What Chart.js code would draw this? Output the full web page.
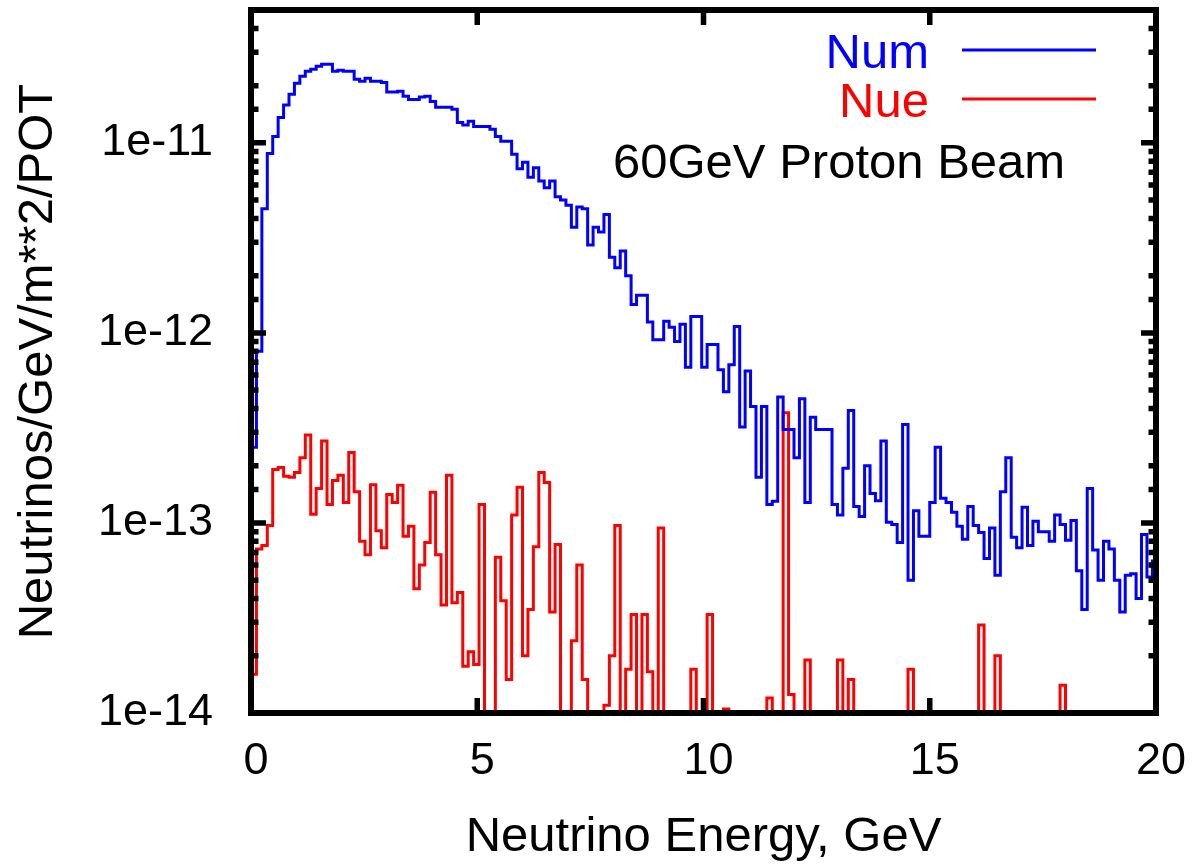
<!DOCTYPE html>
<html>
<head>
<meta charset="utf-8">
<title>Neutrino flux</title>
<script src="https://cdn.jsdelivr.net/npm/chart.js@4.4.0/dist/chart.umd.min.js"></script>
<style>
  html, body { margin: 0; padding: 0; background: #ffffff; overflow: hidden; }
  canvas { display: block; }
</style>
</head>
<body>
<canvas id="fluxChart" width="1194" height="866"></canvas>
<script>
// histogram bins, 0.12 GeV wide, starting at 0
const BIN_WIDTH = 0.12;
const seriesLabels = ['Num', 'Nue'];
const seriesColors = ['#0000ff', '#ff0000'];
const noteText = '60GeV Proton Beam';
const xTitle = 'Neutrino Energy, GeV';
const yTitle = 'Neutrinos/GeV/m**2/POT';
const xTicks = [0, 5, 10, 15, 20];
const yRange = [1e-14, 5e-11];

// value the step line starts from at E = 0
const numStart = 4.6e-14;
const nueStart = 0;

const numFlux = [
  2.5e-13, 8.0e-13, 4.5e-12, 8.8e-12, 1.08e-11, 1.36e-11, 1.58e-11, 1.80e-11, 2.06e-11, 2.24e-11,
  2.38e-11, 2.44e-11, 2.53e-11, 2.59e-11, 2.59e-11, 2.38e-11, 2.41e-11, 2.38e-11, 2.38e-11, 2.16e-11,
  2.11e-11, 2.19e-11, 2.11e-11, 2.11e-11, 2.08e-11, 1.85e-11, 1.85e-11, 1.87e-11, 1.76e-11, 1.69e-11,
  1.69e-11, 1.74e-11, 1.76e-11, 1.65e-11, 1.54e-11, 1.54e-11, 1.54e-11, 1.50e-11, 1.28e-11, 1.24e-11,
  1.30e-11, 1.22e-11, 1.22e-11, 1.22e-11, 1.18e-11, 1.08e-11, 1.02e-11, 1.02e-11, 8.7e-12, 7.3e-12,
  7.9e-12, 6.6e-12, 7.4e-12, 6.3e-12, 5.8e-12, 6.3e-12, 5.2e-12, 5.0e-12, 4.7e-12, 3.6e-12,
  4.6e-12, 4.5e-12, 2.9e-12, 3.6e-12, 3.4e-12, 4.2e-12, 2.5e-12, 2.2e-12, 2.7e-12, 2.0e-12,
  1.41e-12, 1.58e-12, 1.58e-12, 1.14e-12, 9.2e-13, 9.2e-13, 1.15e-12, 1.07e-12, 9.0e-13, 1.11e-12,
  6.6e-13, 1.22e-12, 1.22e-12, 6.6e-13, 8.7e-13, 8.7e-13, 6.4e-13, 4.9e-13, 6.8e-13, 1.08e-12,
  3.2e-13, 6.3e-13, 4.1e-13, 1.74e-13, 4.1e-13, 1.25e-13, 1.30e-13, 4.6e-13, 3.1e-13, 3.1e-13,
  2.2e-13, 4.5e-13, 1.28e-13, 3.6e-13, 3.1e-13, 3.1e-13, 3.1e-13, 1.25e-13, 1.10e-13, 1.94e-13,
  3.9e-13, 1.22e-13, 1.08e-13, 2.0e-13, 1.43e-13, 1.31e-13, 2.7e-13, 1.01e-13, 9.8e-14, 7.9e-14,
  3.3e-13, 5.0e-14, 1.16e-13, 8.5e-14, 8.5e-14, 1.28e-13, 2.5e-13, 1.35e-13, 1.28e-13, 1.14e-13,
  9.6e-14, 8.2e-14, 1.22e-13, 9.7e-14, 8.9e-14, 6.5e-14, 9.4e-14, 5.3e-14, 1.46e-13, 2.2e-13,
  8.4e-14, 7.4e-14, 1.21e-13, 7.6e-14, 1.02e-13, 9.0e-14, 9.0e-14, 8.0e-14, 1.10e-13, 9.8e-14,
  8.1e-14, 1.03e-13, 5.6e-14, 3.5e-14, 1.52e-13, 7.2e-14, 5.0e-14, 8.0e-14, 7.3e-14, 5.0e-14,
  3.4e-14, 5.3e-14, 5.4e-14, 4.0e-14, 8.7e-14, 5.2e-14, 6.3e-14
];

// 0 = empty bin
const nueFlux = [
  1.6e-14, 7.3e-14, 7.6e-14, 9.7e-14, 1.91e-13, 1.96e-13, 1.76e-13, 1.74e-13, 1.84e-13, 2.2e-13,
  2.9e-13, 1.11e-13, 1.52e-13, 2.7e-13, 1.25e-13, 1.67e-13, 1.78e-13, 1.28e-13, 2.35e-13, 1.46e-13,
  8.0e-14, 6.8e-14, 1.59e-13, 9.1e-14, 7.4e-14, 1.41e-13, 1.28e-13, 1.58e-13, 8.5e-14, 9.6e-14,
  4.5e-14, 6.0e-14, 7.9e-14, 1.45e-13, 6.8e-14, 3.7e-14, 1.78e-13, 3.8e-14, 4.3e-14, 1.76e-14,
  2.1e-14, 1.8e-14, 1.25e-13, 0, 0, 6.6e-14, 3.9e-14, 1.5e-14, 1.10e-13, 1.54e-13,
  2.0e-14, 3.5e-14, 7.5e-14, 1.84e-13, 1.63e-13, 3.4e-14, 7.7e-14, 0, 0, 2.4e-14,
  6.0e-14, 1.5e-14, 0, 0, 0, 1.1e-14, 2.0e-14, 9.7e-14, 0, 1.7e-14,
  3.3e-14, 0, 3.3e-14, 1.65e-14, 0, 9.4e-14, 0, 0, 0, 0,
  0, 1.7e-14, 0, 0, 3.3e-14, 0, 0, 1.05e-14, 0, 0,
  0, 0, 0, 0, 0, 1.2e-14, 0, 0, 3.8e-13, 1.25e-14,
  0, 0, 1.9e-14, 0, 0, 0, 0, 0, 1.9e-14, 0,
  1.5e-14, 0, 0, 0, 0, 0, 0, 0, 0, 0,
  0, 1.7e-14, 0, 0, 0, 0, 0, 0, 0, 0,
  0, 0, 0, 0, 2.9e-14, 0, 0, 2.0e-14, 0, 0,
  0, 0, 0, 0, 0, 0, 0, 0, 0, 1.4e-14,
  0, 0, 0, 0, 0, 0, 0, 0, 0, 0,
  0, 0, 0, 0, 0, 0, 0
];

const FONT = '"Liberation Sans", Helvetica, Arial, sans-serif';

function isDecade(value) {
  const e = Math.log10(value);
  return Math.abs(e - Math.round(e)) < 1e-6;
}

// each point sits at the right edge of its bin, drawn with stepped 'after'
function toSteps(start, values) {
  const points = [{ x: 0, y: start > 0 ? start : yRange[0] }];
  values.forEach(function (v, i) {
    points.push({ x: (i + 1) * BIN_WIDTH, y: v > 0 ? v : yRange[0] });
  });
  return points;
}

const frameTicks = {
  id: 'frameTicks',
  afterDatasetsDraw: function (chart) {
    const ctx = chart.ctx;
    const a = chart.chartArea;
    const xs = chart.scales.x;
    const ys = chart.scales.y;
    ctx.save();
    ctx.strokeStyle = '#000000';
    ctx.lineCap = 'butt';
    ctx.lineWidth = 5.5;
    ctx.beginPath();
    ys.ticks.forEach(function (t) {
      const py = ys.getPixelForValue(t.value);
      const len = isDecade(t.value) ? 15 : 7.5;
      ctx.moveTo(a.left, py); ctx.lineTo(a.left + len, py);
      ctx.moveTo(a.right, py); ctx.lineTo(a.right - len, py);
    });
    xs.ticks.forEach(function (t) {
      const px = xs.getPixelForValue(t.value);
      ctx.moveTo(px, a.bottom); ctx.lineTo(px, a.bottom - 15);
      ctx.moveTo(px, a.top); ctx.lineTo(px, a.top + 15);
    });
    ctx.stroke();
    ctx.lineWidth = 6;
    ctx.lineJoin = 'miter';
    ctx.strokeRect(a.left, a.top, a.right - a.left, a.bottom - a.top);
    ctx.restore();
  },
  afterDraw: function (chart) {
    const ctx = chart.ctx;
    ctx.save();
    ctx.font = '49px ' + FONT;
    ctx.textBaseline = 'alphabetic';
    chart.data.datasets.forEach(function (ds, i) {
      ctx.fillStyle = ds.borderColor;
      ctx.textAlign = 'right';
      ctx.fillText(ds.label, 929, 68 + i * 49);
      ctx.strokeStyle = ds.borderColor;
      ctx.lineWidth = 3;
      ctx.beginPath();
      ctx.moveTo(962, 50 + i * 49);
      ctx.lineTo(1096, 50 + i * 49);
      ctx.stroke();
    });
    ctx.fillStyle = '#000000';
    ctx.textAlign = 'left';
    ctx.fillText(noteText, 613, 178);
    ctx.restore();
  }
};

const chart = new Chart(document.getElementById('fluxChart'), {
  type: 'line',
  data: {
    datasets: [
      { label: seriesLabels[0], data: toSteps(numStart, numFlux), borderColor: seriesColors[0] },
      { label: seriesLabels[1], data: toSteps(nueStart, nueFlux), borderColor: seriesColors[1] }
    ]
  },
  options: {
    responsive: false,
    animation: false,
    devicePixelRatio: 1,
    layout: { padding: { top: 10, right: 38, left: 0, bottom: 0 } },
    elements: {
      line: { stepped: 'after', borderWidth: 3, tension: 0, fill: false, borderJoinStyle: 'miter' },
      point: { radius: 0, hoverRadius: 0 }
    },
    plugins: {
      legend: { display: false },
      tooltip: { enabled: false }
    },
    scales: {
      x: {
        type: 'linear',
        position: 'bottom',
        min: xTicks[0],
        max: xTicks[xTicks.length - 1],
        afterBuildTicks: function (scale) {
          scale.ticks = xTicks.map(function (v) { return { value: v }; });
        },
        ticks: {
          color: '#000000',
          font: { family: FONT, size: 45 },
          padding: 22,
          labelOffset: 5,
          maxRotation: 0,
          autoSkip: false
        },
        grid: { display: false, drawTicks: false },
        border: { display: false },
        title: {
          display: true,
          text: xTitle,
          color: '#000000',
          font: { family: FONT, size: 49, lineHeight: 1 },
          padding: { top: 0, bottom: 4 }
        },
        afterFit: function (scale) {
          scale.height = 153;
          scale.paddingLeft = 0;
          scale.paddingRight = 0;
        }
      },
      y: {
        type: 'logarithmic',
        position: 'left',
        min: yRange[0],
        max: yRange[1],
        ticks: {
          color: '#000000',
          font: { family: FONT, size: 45 },
          padding: 38,
          autoSkip: false,
          callback: function (value) {
            return isDecade(value) ? '1e' + Math.round(Math.log10(value)) : '';
          }
        },
        grid: { display: false, drawTicks: false },
        border: { display: false },
        title: {
          display: true,
          text: yTitle,
          color: '#000000',
          font: { family: FONT, size: 49, lineHeight: 1.2 },
          padding: { top: 9, bottom: 0 }
        },
        afterFit: function (scale) {
          scale.width = 251;
          scale.paddingTop = 0;
          scale.paddingBottom = 0;
        }
      }
    }
  },
  plugins: [frameTicks]
});
</script>
</body>
</html>
